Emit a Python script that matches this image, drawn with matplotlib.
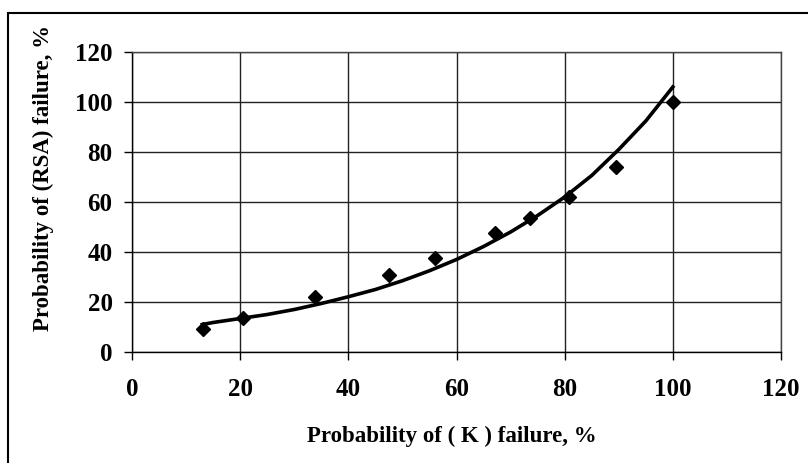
import matplotlib
matplotlib.use('Agg')
import matplotlib.pyplot as plt
from matplotlib.patches import Rectangle

# measured points
k_fail = [13.1, 20.6, 33.8, 47.5, 56.0, 67.1, 73.6, 80.8, 89.5, 100.0]
rsa_fail = [9.2, 13.6, 22.0, 30.8, 37.6, 47.6, 53.6, 62.0, 74.0, 100.0]

# trend line
trend_x = [13, 15, 20, 25, 30, 35, 40, 45, 50, 55, 60, 65, 70, 75, 80, 85, 90, 95, 100]
trend_y = [11.0, 11.8, 13.4, 15.0, 17.0, 19.4, 22.1, 25.0, 28.5, 32.5, 37.0, 42.2, 48.0, 54.6, 62.0, 70.6, 81.0, 92.4, 106.0]

ticks = [0, 20, 40, 60, 80, 100, 120]

plt.rcParams['font.family'] = ['Liberation Serif', 'DejaVu Serif']
plt.rcParams['font.weight'] = 'bold'

fig = plt.figure(figsize=(8.08, 4.63), dpi=100)
ax = fig.add_axes([132 / 808, 1 - 352 / 463, 649 / 808, 300 / 463])

# outer chart frame (only left/top edges show in the picture)
fig.patches.append(Rectangle((8 / 808, -0.1), 1.2, 1 - 13 / 463 + 0.1,
                             transform=fig.transFigure, fill=False,
                             edgecolor='black', linewidth=1.5))

ax.plot(trend_x, trend_y, color='black', linewidth=2.6, zorder=3)
ax.plot(k_fail, rsa_fail, linestyle='none', marker='D', markersize=7.5,
        color='black', zorder=4)

ax.set_xlim(0, 120)
ax.set_ylim(0, 120)
ax.set_xticks(ticks)
ax.set_yticks(ticks)
ax.grid(True, color='#222222', linewidth=1.0)
ax.set_axisbelow(True)

for side in ['top', 'right']:
    ax.spines[side].set_color('#444444')
    ax.spines[side].set_linewidth(1.0)
for side in ['left', 'bottom']:
    ax.spines[side].set_linewidth(1.0)

ax.tick_params(axis='x', direction='out', length=6, width=1, pad=13, labelsize=18)
ax.tick_params(axis='y', direction='out', length=6, width=1, pad=8, labelsize=18)

ax.set_xlabel('Probability of ( K ) failure, %', fontsize=16.5, fontweight='bold', va='center')
ax.xaxis.set_label_coords(0.493, -0.283)
ax.set_ylabel('Probability of (RSA) failure, %', fontsize=16.5, fontweight='bold', va='center')
ax.yaxis.set_label_coords(-0.137, 0.58)

fig.savefig('out.png', dpi=100)
